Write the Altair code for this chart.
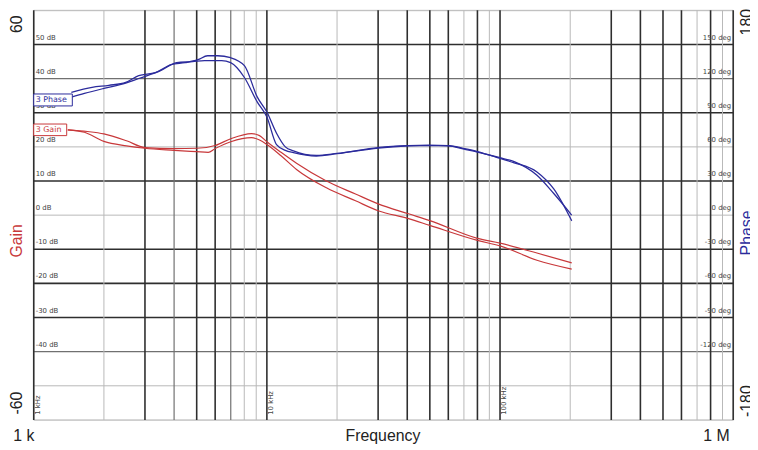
import altair as alt
import pandas as pd

# ---------------- data ----------------
gain1_freq = [1400, 1700, 2000, 2500, 3000, 4000, 5000, 6000, 7000, 8600, 9300, 10000, 11500,
              13400, 18000, 24000, 30000, 40500, 50000, 80000, 100000, 144000, 203000]
gain1_db = [25.0, 24.5, 23.8, 21.8, 19.8, 19.5, 19.6, 20.4, 22.4, 23.9, 23.3, 21.5, 18.4,
            15.2, 10.0, 6.2, 3.3, 0.4, -1.6, -6.8, -8.2, -11.1, -14.0]

gain2_freq = [1400, 1650, 2000, 2500, 3000, 4000, 5000, 5600, 6000, 7000, 8600, 9300, 10000, 11500,
              13400, 18000, 24000, 30000, 40500, 50000, 80000, 100000, 144000, 203000]
gain2_db = [25.0, 24.3, 21.6, 20.3, 19.6, 19.0, 18.6, 18.4, 19.5, 21.5, 22.7, 22.0, 20.7, 17.4,
            13.4, 8.0, 4.2, 1.3, -1.0, -3.0, -7.4, -9.0, -13.2, -15.8]

phase1_freq = [1450, 1780, 2100, 2480, 2820, 3320, 3890, 4460, 5060, 5570, 6150, 6990, 8010,
               9100, 10000, 11000, 12000, 13000, 16300, 20000, 30000, 40400, 49400, 60000,
               70200, 80000, 100000, 115000, 144000, 170000, 203000]
phase1_deg = [108.0, 112.3, 114.1, 116.7, 122.7, 125.3, 132.3, 134.0, 136.6, 140.1, 140.1, 138.4, 131.4,
              103.7, 90.6, 72.0, 60.0, 56.5, 52.5, 54.2, 59.4, 61.2, 61.2, 61.2,
              58.5, 55.9, 49.9, 46.0, 38.0, 23.0, -5.0]

phase2_freq = [1450, 1650, 2000, 2480, 2820, 3500, 4100, 4800, 5400, 6400, 6990, 8010,
               9100, 10000, 11000, 12000, 13000, 16300, 20000, 30000, 40400, 49400, 60000,
               70200, 80000, 100000, 115000, 144000, 170000, 203000]
phase2_deg = [103.7, 107.0, 111.4, 116.0, 120.1, 127.0, 134.0, 134.9, 135.8, 135.8, 134.0, 121.0,
              99.3, 86.3, 62.0, 57.0, 55.0, 52.0, 54.0, 59.0, 61.0, 61.5, 61.0,
              58.0, 55.5, 50.5, 47.0, 35.0, 19.0, 0.0]

hgrid_db = [60, 50, 40, 30, 20, 10, 0, -10, -20, -30, -40, -50, -60]
hgrid_shade = ["light", "dark", "medium", "dark", "light", "dark", "light",
               "dark", "dark", "dark", "medium", "light", "light"]

vgrid_freq = [1000, 2000, 3000, 4000, 5000, 6000, 7000, 8000, 9000,
              10000, 20000, 30000, 40000, 50000, 60000, 70000, 80000, 90000,
              100000, 200000, 300000, 400000, 500000, 600000, 700000, 800000, 900000, 1000000]
vgrid_shade = ["dark", "light", "dark", "medium", "dark", "dark", "medium", "light", "light",
               "dark", "light", "dark", "dark", "dark", "dark", "light", "dark", "light",
               "dark", "light", "dark", "dark", "dark", "dark", "light", "dark", "light", "dark"]

grid_label_db = [50, 40, 30, 20, 10, 0, -10, -20, -30, -40]
gain_label_text = ["50 dB", "40 dB", "30 dB", "20 dB", "10 dB", "0 dB",
                   "-10 dB", "-20 dB", "-30 dB", "-40 dB"]
phase_label_text = ["150 deg", "120 deg", "90 deg", "60 deg", "30 deg", "0 deg",
                    "-30 deg", "-60 deg", "-90 deg", "-120 deg"]

decade_freq = [1000, 10000, 100000]
decade_text = ["1 kHz", "10 kHz", "100 kHz"]

# ---------------- styles ----------------
W, H = 707, 414
RED = "#c8383a"
BLUE = "#2b2b9c"
shade_color = {"dark": "#2e2e2e", "medium": "#707070", "light": "#b8b8b8"}
shade_width = {"dark": 1.6, "medium": 1.2, "light": 1.0}

xs = alt.Scale(type="log", domain=[1000, 1000000], nice=False)
ys_gain = alt.Scale(domain=[-60, 60], nice=False, zero=False)
ys_phase = alt.Scale(domain=[-180, 180], nice=False, zero=False)

hgrid = pd.DataFrame({"db": hgrid_db, "shade": hgrid_shade})
vgrid = pd.DataFrame({"f": vgrid_freq, "shade": vgrid_shade})

layers = []
for s in ["light", "medium", "dark"]:
    layers.append(
        alt.Chart(hgrid[hgrid.shade == s]).mark_rule(color=shade_color[s], strokeWidth=shade_width[s])
        .encode(y=alt.Y("db:Q", scale=ys_gain, axis=None))
    )
for s in ["light", "medium", "dark"]:
    layers.append(
        alt.Chart(vgrid[vgrid.shade == s]).mark_rule(color=shade_color[s], strokeWidth=shade_width[s])
        .encode(x=alt.X("f:Q", scale=xs, axis=None))
    )

lab = pd.DataFrame({"db": grid_label_db, "g": gain_label_text, "p": phase_label_text,
                    "fl": [1000] * len(grid_label_db), "fr": [1000000] * len(grid_label_db)})
layers.append(
    alt.Chart(lab).mark_text(align="left", baseline="bottom", dx=2, dy=-4, fontSize=7,
                             font="DejaVu Sans", color="#444444")
    .encode(x=alt.X("fl:Q", scale=xs, axis=None), y=alt.Y("db:Q", scale=ys_gain, axis=None), text="g:N")
)
layers.append(
    alt.Chart(lab).mark_text(align="right", baseline="bottom", dx=-2, dy=-4, fontSize=7,
                             font="DejaVu Sans", color="#444444")
    .encode(x=alt.X("fr:Q", scale=xs, axis=None), y=alt.Y("db:Q", scale=ys_gain, axis=None), text="p:N")
)

dec = pd.DataFrame({"f": decade_freq, "t": decade_text, "db": [-58.5] * 3})
layers.append(
    alt.Chart(dec).mark_text(align="left", baseline="middle", angle=270, dy=4, fontSize=7,
                             font="DejaVu Sans", color="#444444")
    .encode(x=alt.X("f:Q", scale=xs, axis=None), y=alt.Y("db:Q", scale=ys_gain, axis=None), text="t:N")
)

g1 = pd.DataFrame({"f": gain1_freq, "db": gain1_db})
g2 = pd.DataFrame({"f": gain2_freq, "db": gain2_db})
p1 = pd.DataFrame({"f": phase1_freq, "deg": phase1_deg})
p2 = pd.DataFrame({"f": phase2_freq, "deg": phase2_deg})

for d in [g1, g2]:
    layers.append(
        alt.Chart(d).mark_line(color=RED, strokeWidth=1.2, interpolate="monotone")
        .encode(x=alt.X("f:Q", scale=xs, axis=None), y=alt.Y("db:Q", scale=ys_gain, axis=None))
    )
for d in [p1, p2]:
    layers.append(
        alt.Chart(d).mark_line(color=BLUE, strokeWidth=1.3, interpolate="monotone")
        .encode(x=alt.X("f:Q", scale=xs, axis=None), y=alt.Y("deg:Q", scale=ys_phase, axis=None))
    )

# legend boxes
box = pd.DataFrame({"f1": [1000, 1000], "f2": [1464, 1385], "y1": [35.5, 26.7], "y2": [32.0, 23.3],
                    "t": ["3 Phase", "3 Gain"], "ym": [33.75, 25.0], "c": [BLUE, RED]})
for i in range(2):
    b = box.iloc[[i]]
    layers.append(
        alt.Chart(b).mark_rect(fill="white", stroke=box.c[i], strokeWidth=1)
        .encode(x=alt.X("f1:Q", scale=xs, axis=None), x2="f2:Q",
                y=alt.Y("y1:Q", scale=ys_gain, axis=None), y2="y2:Q")
    )
    layers.append(
        alt.Chart(b).mark_text(align="left", baseline="middle", dx=2, fontSize=8,
                               font="DejaVu Sans", color=box.c[i])
        .encode(x=alt.X("f1:Q", scale=xs, axis=None), y=alt.Y("ym:Q", scale=ys_gain, axis=None), text="t:N")
    )

# outer axis-like texts
outer = [
    ("60", -17, 14, 270, "#222222"),
    ("Gain", -17, 233, 270, RED),
    ("-60", -17, 397, 270, "#222222"),
    ("180", 721, 12, 270, "#222222"),
    ("Phase", 721, 225, 270, BLUE),
    ("-180", 721, 395, 270, "#222222"),
    ("1 k", -10, 430, 0, "#222222"),
    ("Frequency", 353, 430, 0, "#222222"),
    ("1 M", 690, 430, 0, "#222222"),
]
for t, x, y, a, c in outer:
    layers.append(
        alt.Chart(pd.DataFrame({"t": [t]})).mark_text(
            align="center", baseline="middle", angle=a, fontSize=16, font="Liberation Sans", color=c)
        .encode(x=alt.value(x), y=alt.value(y), text="t:N")
    )

chart = (
    alt.layer(*layers)
    .resolve_scale(y="independent")
    .properties(width=W, height=H, autosize=alt.AutoSizeParams(type="none"),
                padding={"left": 26, "top": 0, "right": 17, "bottom": 28})
    .configure_view(stroke=None)
    .configure(background="white")
)

chart.save("out.html", embed_options={"renderer": "svg", "actions": False})
